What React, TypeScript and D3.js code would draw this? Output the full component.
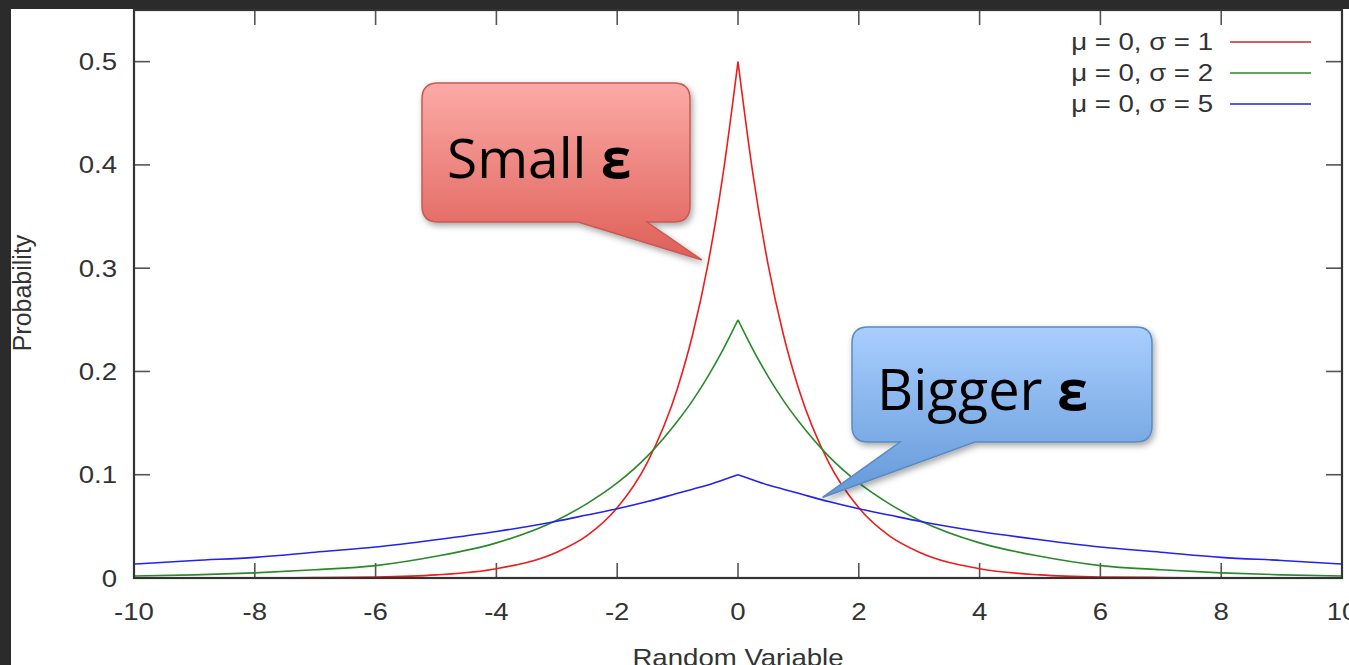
import React from 'react';
import * as d3 from 'd3';

const xValues = [-10, -9, -8, -7, -6, -5, -4, -3, -2.5, -2, -1.5, -1, -0.75, -0.5, -0.25, 0,
  0.25, 0.5, 0.75, 1, 1.5, 2, 2.5, 3, 4, 5, 6, 7, 8, 9, 10];

// sigma = 1
const redValues = [0, 0, 0, 0.0005, 0.001, 0.003, 0.009, 0.025, 0.041, 0.068, 0.112, 0.184, 0.236, 0.303, 0.39, 0.5,
  0.39, 0.303, 0.236, 0.184, 0.112, 0.068, 0.041, 0.025, 0.009, 0.003, 0.001, 0.0005, 0, 0, 0];
// sigma = 2
const greenValues = [0.002, 0.003, 0.005, 0.008, 0.012, 0.021, 0.034, 0.056, 0.072, 0.092, 0.118, 0.152, 0.172, 0.195, 0.221, 0.25,
  0.221, 0.195, 0.172, 0.152, 0.118, 0.092, 0.072, 0.056, 0.034, 0.021, 0.012, 0.008, 0.005, 0.003, 0.002];
// sigma = 5
const blueValues = [0.0135, 0.017, 0.02, 0.025, 0.03, 0.037, 0.045, 0.055, 0.061, 0.067, 0.074, 0.082, 0.086, 0.09, 0.095, 0.1,
  0.095, 0.09, 0.086, 0.082, 0.074, 0.067, 0.061, 0.055, 0.045, 0.037, 0.03, 0.025, 0.02, 0.017, 0.0135];

const seriesNames = ['μ = 0, σ = 1', 'μ = 0, σ = 2', 'μ = 0, σ = 5'];
const seriesColors = ['#ee1c1c', '#2a8a2a', '#2323f0'];
const legendColors = ['#c42a2a', '#2a8a2a', '#2323e0'];

const xTicks = [-10, -8, -6, -4, -2, 0, 2, 4, 6, 8, 10];
const yTicks = [0, 0.1, 0.2, 0.3, 0.4, 0.5];

const W = 1349;
const H = 665;
const left = 134, right = 1342, top = 10, bottom = 578;
const FONT = '"Liberation Sans", Arial, sans-serif';
const SX = 1.15; // the picture is stretched sideways

const x = d3.scaleLinear().domain([-10, 10]).range([left, right]);
const y = d3.scaleLinear().domain([0, 0.55]).range([bottom, top]);

function bubble(x0, y0, x1, y1, r, bx0, bx1, tx, ty) {
  return `M${x0 + r},${y0} H${x1 - r} Q${x1},${y0} ${x1},${y0 + r} V${y1 - r} Q${x1},${y1} ${x1 - r},${y1}` +
    ` H${bx1} L${tx},${ty} L${bx0},${y1} H${x0 + r} Q${x0},${y1} ${x0},${y1 - r} V${y0 + r} Q${x0},${y0} ${x0 + r},${y0} Z`;
}

const App = () => {
  const all = [redValues, greenValues, blueValues];
  const line = d3.line().x(d => x(d[0])).y(d => y(d[1])).curve(d3.curveMonotoneX);
  // draw each side of the peak on its own so the top stays sharp
  const paths = all.map(vals => {
    const pts = xValues.map((v, i) => [v, vals[i]]);
    const mid = xValues.indexOf(0);
    return line(pts.slice(0, mid + 1)) + line(pts.slice(mid));
  });

  // callout tips in data units
  const redTip = [x(-0.6), y(0.308)];
  const blueTip = [x(1.4), y(0.078)];

  return (
    <svg width={W} height={H} style={{ position: 'absolute', left: 0, top: 0 }}>
      <defs>
        <linearGradient id="redFill" x1="0" y1="0" x2="0" y2="1">
          <stop offset="0" stopColor="#fcaaa6" />
          <stop offset="1" stopColor="#de5f57" />
        </linearGradient>
        <linearGradient id="blueFill" x1="0" y1="0" x2="0" y2="1">
          <stop offset="0" stopColor="#a9cefe" />
          <stop offset="1" stopColor="#6399d8" />
        </linearGradient>
        <filter id="shadow" x="-10%" y="-10%" width="130%" height="140%">
          <feDropShadow dx="2" dy="3" stdDeviation="3" floodColor="#000" floodOpacity="0.35" />
        </filter>
      </defs>
      <rect x={0} y={0} width={W} height={H} fill="#2b2b2b" />
      <rect x={11} y={9} width={W - 11} height={H - 9} fill="#fff" />

      {/* ticks, all four sides */}
      <g stroke="#555" strokeWidth={1.6}>
        {xTicks.map(t => (
          <g key={'x' + t}>
            <line x1={x(t)} x2={x(t)} y1={bottom} y2={bottom - 15} />
            <line x1={x(t)} x2={x(t)} y1={top} y2={top + 15} />
          </g>
        ))}
        {yTicks.map(t => (
          <g key={'y' + t}>
            <line x1={left} x2={left + 16} y1={y(t)} y2={y(t)} />
            <line x1={right} x2={right - 16} y1={y(t)} y2={y(t)} />
          </g>
        ))}
      </g>

      {/* curves */}
      {paths.map((p, i) => (
        <path key={i} d={p} fill="none" stroke={seriesColors[i]} strokeWidth={1.6} />
      ))}

      <rect x={left} y={top} width={right - left} height={bottom - top} fill="none" stroke="#333" strokeWidth={2.2} />

      {/* tick labels */}
      <g fontFamily={FONT} fontSize={24} fill="#333">
        {xTicks.map(t => (
          <text key={'xl' + t} textAnchor="middle" transform={`translate(${x(t)},620) scale(${SX},1)`}>{t}</text>
        ))}
        {yTicks.map(t => (
          <text key={'yl' + t} textAnchor="end" transform={`translate(117,${y(t) + 8.5}) scale(${SX},1)`}>{t}</text>
        ))}
        <text textAnchor="middle" transform={`translate(738,666) scale(${SX},1)`}>Random Variable</text>
        <text textAnchor="middle" fontSize={25} transform={`translate(31,293) rotate(-90)`}>Probability</text>
      </g>

      {/* legend */}
      <g fontFamily={FONT} fontSize={24} fill="#333">
        {seriesNames.map((n, i) => (
          <g key={n}>
            <text textAnchor="end" transform={`translate(1213,${50 + i * 31}) scale(${SX},1)`}>{n}</text>
            <line x1={1230} x2={1311} y1={42 + i * 31} y2={42 + i * 31} stroke={legendColors[i]} strokeWidth={1.5} />
          </g>
        ))}
      </g>

      {/* callouts */}
      <path d={bubble(422, 83, 690, 222, 16, 578, 647, redTip[0], redTip[1])}
        fill="url(#redFill)" stroke="#c65a54" strokeWidth={1.5} filter="url(#shadow)" />
      <text x={447} y={178} fontFamily='"Open Sans", sans-serif' fontSize={55} fill="#000">
        Small <tspan fontWeight="bold">ε</tspan>
      </text>

      <path d={bubble(852, 327, 1152, 442, 16, 900, 975, blueTip[0], blueTip[1])}
        fill="url(#blueFill)" stroke="#5a8ac4" strokeWidth={1.5} filter="url(#shadow)" />
      <text x={877} y={410} fontFamily='"Open Sans", sans-serif' fontSize={56} fill="#000">
        Bigger <tspan fontWeight="bold">ε</tspan>
      </text>
    </svg>
  );
};

export default App;
